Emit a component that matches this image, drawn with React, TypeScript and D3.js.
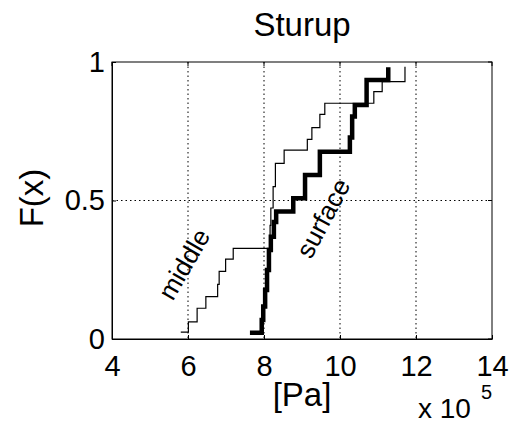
import React, { useEffect, useRef } from 'react'
import * as d3 from 'd3'

// pressure values (x 10^5 Pa) where each step jumps, and the level after the jump
const middleX = [5.81, 6.01, 6.24, 6.47, 6.78, 6.82, 6.99, 7.19, 8.16, 8.18, 8.24, 8.3, 8.53, 9.14, 9.26, 9.47, 9.6, 10.89, 11.11, 11.71]
const middleF = [0.025, 0.062, 0.111, 0.153, 0.197, 0.244, 0.288, 0.327, 0.41, 0.473, 0.55, 0.634, 0.682, 0.721, 0.763, 0.811, 0.851, 0.893, 0.929, 0.983]

const surfaceX = [7.63, 7.94, 7.98, 8.03, 8.08, 8.13, 8.18, 8.26, 8.32, 8.77, 9.08, 9.47, 10.26, 10.32, 10.39, 10.7, 11.27]
const surfaceF = [0.023, 0.069, 0.117, 0.177, 0.249, 0.321, 0.369, 0.422, 0.46, 0.508, 0.592, 0.676, 0.727, 0.803, 0.845, 0.935, 0.981]

const xTicks = [4, 6, 8, 10, 12, 14]
const yTicks = [0, 0.5, 1]
const xGrid = [6, 8, 10, 12]
const yGrid = [0.5]

const FONT = '"Liberation Sans", Arial, Helvetica, sans-serif'

const App = () => {
  const svgRef = useRef<SVGSVGElement>(null)

  useEffect(() => {
    const w = 512
    const h = 424
    const svg = d3.select(svgRef.current)
    svg.selectAll('*').remove()
    svg.attr('width', w).attr('height', h).style('background', '#fff')

    const left = 112, right = 492, top = 62, bottom = 339

    const xScale = d3.scaleLinear().domain([4, 14]).range([left, right])
    const yScale = d3.scaleLinear().domain([0, 1]).range([bottom, top])

    // grid
    svg.append('g')
      .selectAll('line')
      .data(xGrid)
      .join('line')
      .attr('x1', d => xScale(d)).attr('x2', d => xScale(d))
      .attr('y1', top).attr('y2', bottom)
      .attr('stroke', '#000').attr('stroke-width', 1)
      .attr('stroke-dasharray', '1.5,3')
    svg.append('g')
      .selectAll('line')
      .data(yGrid)
      .join('line')
      .attr('x1', left).attr('x2', right)
      .attr('y1', d => yScale(d)).attr('y2', d => yScale(d))
      .attr('stroke', '#000').attr('stroke-width', 1)
      .attr('stroke-dasharray', '1.5,3')

    // axes
    const xAxis = d3.axisBottom(xScale).tickValues(xTicks).tickSizeInner(-4).tickSizeOuter(0).tickPadding(16).tickFormat(d => String(d))
    const yAxis = d3.axisLeft(yScale).tickValues(yTicks).tickSizeInner(-4).tickSizeOuter(0).tickPadding(7).tickFormat(d => String(d))

    const gx = svg.append('g').attr('transform', `translate(0, ${bottom})`).call(xAxis)
    const gy = svg.append('g').attr('transform', `translate(${left}, 0)`).call(yAxis)
    ;[gx, gy].forEach(g => {
      g.selectAll('text').attr('font-family', FONT).attr('font-size', 29).attr('fill', '#000')
      g.selectAll('line').attr('stroke', '#000')
      g.select('.domain').attr('stroke', '#000')
    })

    // box
    svg.append('rect')
      .attr('x', left).attr('y', top)
      .attr('width', right - left).attr('height', bottom - top)
      .attr('fill', 'none').attr('stroke', '#000').attr('stroke-width', 1)

    // top/right ticks
    svg.append('g').selectAll('line').data(xTicks).join('line')
      .attr('x1', d => xScale(d)).attr('x2', d => xScale(d))
      .attr('y1', top).attr('y2', top + 4).attr('stroke', '#000')
    svg.append('g').selectAll('line').data(yTicks).join('line')
      .attr('x1', right).attr('x2', right - 4)
      .attr('y1', d => yScale(d)).attr('y2', d => yScale(d)).attr('stroke', '#000')

    // step curves
    const stair = d3.line<[number, number]>()
      .x(d => xScale(d[0]))
      .y(d => yScale(d[1]))
      .curve(d3.curveStepAfter)

    const middle = middleX.map((x, i) => [x, middleF[i]] as [number, number])
    const surface = surfaceX.map((x, i) => [x, surfaceF[i]] as [number, number])

    svg.append('path')
      .attr('d', stair(middle))
      .attr('fill', 'none').attr('stroke', '#000').attr('stroke-width', 1.2)
    svg.append('path')
      .attr('d', stair(surface))
      .attr('fill', 'none').attr('stroke', '#000').attr('stroke-width', 4.5)

    // annotations
    svg.append('text')
      .attr('transform', 'translate(184, 264) rotate(-60)')
      .attr('text-anchor', 'middle').attr('dy', '0.35em')
      .attr('font-family', FONT).attr('font-size', 26)
      .text('middle')
    svg.append('text')
      .attr('transform', 'translate(323, 218) rotate(-62)')
      .attr('text-anchor', 'middle').attr('dy', '0.35em')
      .attr('font-family', FONT).attr('font-size', 26)
      .text('surface')

    // titles
    svg.append('text')
      .attr('x', (left + right) / 2).attr('y', 36)
      .attr('text-anchor', 'middle')
      .attr('font-family', FONT).attr('font-size', 33)
      .text('Sturup')
    svg.append('text')
      .attr('x', (left + right) / 2).attr('y', 406)
      .attr('text-anchor', 'middle')
      .attr('font-family', FONT).attr('font-size', 33)
      .text('[Pa]')
    svg.append('text')
      .attr('transform', 'translate(43, 198) rotate(-90)')
      .attr('text-anchor', 'middle')
      .attr('font-family', FONT).attr('font-size', 33)
      .text('F(x)')
    svg.append('text')
      .attr('x', 418).attr('y', 418)
      .attr('font-family', FONT).attr('font-size', 28)
      .text('x 10')
    svg.append('text')
      .attr('x', 481).attr('y', 399)
      .attr('font-family', FONT).attr('font-size', 20)
      .text('5')
  }, [])

  return (
    <div style={{ position: 'absolute', left: 0, top: 0 }}>
      <svg ref={svgRef}></svg>
    </div>
  )
}

export default App
